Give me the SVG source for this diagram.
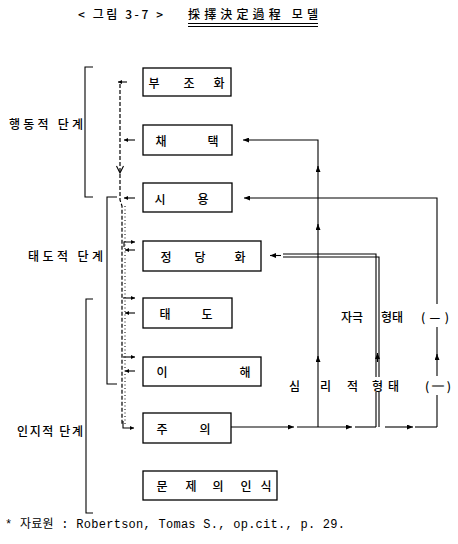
<svg xmlns="http://www.w3.org/2000/svg" width="458" height="544" viewBox="0 0 458 544">
<style>
.box{fill:#fff;stroke:#000;stroke-width:1.3}
.t{font-family:"Noto Sans CJK KR","Noto Sans",sans-serif;font-size:12px;font-weight:500;fill:#000;text-anchor:middle;dominant-baseline:central}
.s{font-family:"Noto Sans CJK KR","Noto Sans",sans-serif;font-size:12px;font-weight:500;fill:#000;dominant-baseline:central}
.ln{fill:none;stroke:#000;stroke-width:1.1}
.dash{fill:none;stroke:#000;stroke-width:1.2;stroke-dasharray:4 2}
.dot{fill:none;stroke:#000;stroke-width:1;stroke-dasharray:1 2.5}
</style>
<defs>
<marker id="a" markerUnits="userSpaceOnUse" markerWidth="6" markerHeight="5" refX="6" refY="2.5" orient="auto"><path d="M0,0 L6,2.5 L0,5 z" fill="#000"/></marker>
<marker id="sa" markerUnits="userSpaceOnUse" markerWidth="4" markerHeight="4" refX="4" refY="2" orient="auto"><path d="M0,0 L4,2 L0,4 z" fill="#000"/></marker>
</defs>
<g id="title">
<text class="s" x="78" y="13" font-size="13" font-weight="bold" textLength="85">&lt; 그림 3-7 &gt;</text>
<text class="s" x="188" y="13" font-size="14" font-weight="bold" textLength="130">採擇決定過程 모델</text>
<path d="M188,23.5 H318 M188,26.5 H318" class="ln" stroke-width="1"/>
</g>
<g id="brackets">
<path class="ln" d="M93,67 H85 V197 H93"/>
<text class="s" x="9" y="123" textLength="74">행동적 단계</text>
<path class="ln" d="M117,197 H107 V384 H117"/>
<text class="s" x="28" y="255" textLength="75">태도적 단계</text>
<path class="ln" d="M93,299 H86 V513 H93"/>
<text class="s" x="17" y="430" textLength="66">인지적 단계</text>
</g>
<g id="n1"><rect class="box" x="143" y="68" width="88" height="28"/><text class="t" x="154" y="82">부</text><text class="t" x="189" y="82">조</text><text class="t" x="219" y="82">화</text></g>
<g id="n2"><rect class="box" x="143" y="125" width="89" height="30"/><text class="t" x="161" y="140">채</text><text class="t" x="213" y="140">택</text></g>
<g id="n3"><rect class="box" x="143" y="183" width="89" height="29"/><text class="t" x="160" y="198">시</text><text class="t" x="203" y="198">용</text></g>
<g id="n4"><rect class="box" x="143" y="241" width="118" height="30"/><text class="t" x="166" y="256">정</text><text class="t" x="200" y="256">당</text><text class="t" x="240" y="256">화</text></g>
<g id="n5"><rect class="box" x="143" y="298" width="89" height="30"/><text class="t" x="165" y="313">태</text><text class="t" x="207" y="313">도</text></g>
<g id="n6"><rect class="box" x="143" y="357" width="118" height="29"/><text class="t" x="162" y="371">이</text><text class="t" x="245" y="371">해</text></g>
<g id="n7"><rect class="box" x="143" y="413" width="88" height="30"/><text class="t" x="162" y="428">주</text><text class="t" x="205" y="428">의</text></g>
<g id="n8"><rect class="box" x="143" y="471" width="134" height="29"/><text class="t" x="162" y="485">문</text><text class="t" x="191" y="485">제</text><text class="t" x="218" y="485">의</text><text class="t" x="246" y="485">인</text><text class="t" x="266" y="485">식</text></g>
<g id="connectors">
<path class="dash" d="M120,84 V200 L122,206 V424"/>
<path class="dot" d="M125,206 V424"/>
<polyline class="ln" points="116.5,166 120,173 123.5,166"/>
<path class="ln" d="M127,82 H118" marker-end="url(#sa)"/>
<path class="ln" d="M135,140 H124" marker-end="url(#sa)"/>
<path class="ln" d="M135,198 H124" marker-end="url(#sa)"/>
<path class="ln" d="M135,250 H125" marker-end="url(#sa)"/>
<path class="ln" d="M135,313 H125" marker-end="url(#sa)"/>
<path class="ln" d="M135,371 H125" marker-end="url(#sa)"/>
<path class="ln" d="M124,247 V242 H135" marker-end="url(#sa)"/>
<path class="ln" d="M123,298 H135" marker-end="url(#sa)"/>
<path class="ln" d="M123,357 H135" marker-end="url(#sa)"/>
<path class="ln" d="M123,421 V428 H134" marker-end="url(#sa)"/>
<path class="ln" d="M231,427 H294" marker-end="url(#a)"/>
<path class="ln" d="M297,427 H352" marker-end="url(#a)"/>
<path class="ln" d="M355,427 H376"/>
<path class="ln" d="M385,427 H413" marker-end="url(#a)"/>
<path class="ln" d="M415,427 H437"/>
<path class="ln" d="M318,427 V356" marker-end="url(#a)"/>
<path class="ln" d="M318,358 V224" marker-end="url(#a)"/>
<path class="ln" d="M318,226 V166" marker-end="url(#a)"/>
<path class="ln" d="M318,168 V140 H243" marker-end="url(#a)"/>
<path class="ln" d="M437,427 V395"/>
<path class="ln" d="M437,376 V354" marker-end="url(#a)"/>
<path class="ln" d="M437,356 V327"/>
<path class="ln" d="M437,304 V198 H244" marker-end="url(#a)"/>
<path class="ln" d="M376,427 V392 M379,427 V392"/>
<path class="ln" d="M376,377 V254 H283 M379,377 V257 H283"/>
<path class="ln" d="M377.5,362 V353" marker-end="url(#a)"/>
<path class="ln" d="M281,255.5 H270" marker-end="url(#a)"/>
</g>
<g id="labels">
<text class="s" x="341" y="316" textLength="22">자극</text>
<text class="s" x="381" y="316" textLength="22">형태</text>
<text class="s" x="421" y="316" textLength="28">(—)</text>
<text class="s" x="289" y="385">심</text>
<text class="s" x="320" y="385">리</text>
<text class="s" x="347" y="385">적</text>
<text class="s" x="372" y="385">형</text>
<text class="s" x="388" y="385">태</text>
<text class="s" x="425" y="385" textLength="26">(═)</text>
</g>
<g id="footnote">
<text x="5" y="528" font-family="Liberation Mono, Noto Sans CJK KR, monospace" font-size="12" textLength="340">* 자료원 : Robertson, Tomas S., op.cit., p. 29.</text>
</g>
</svg>
